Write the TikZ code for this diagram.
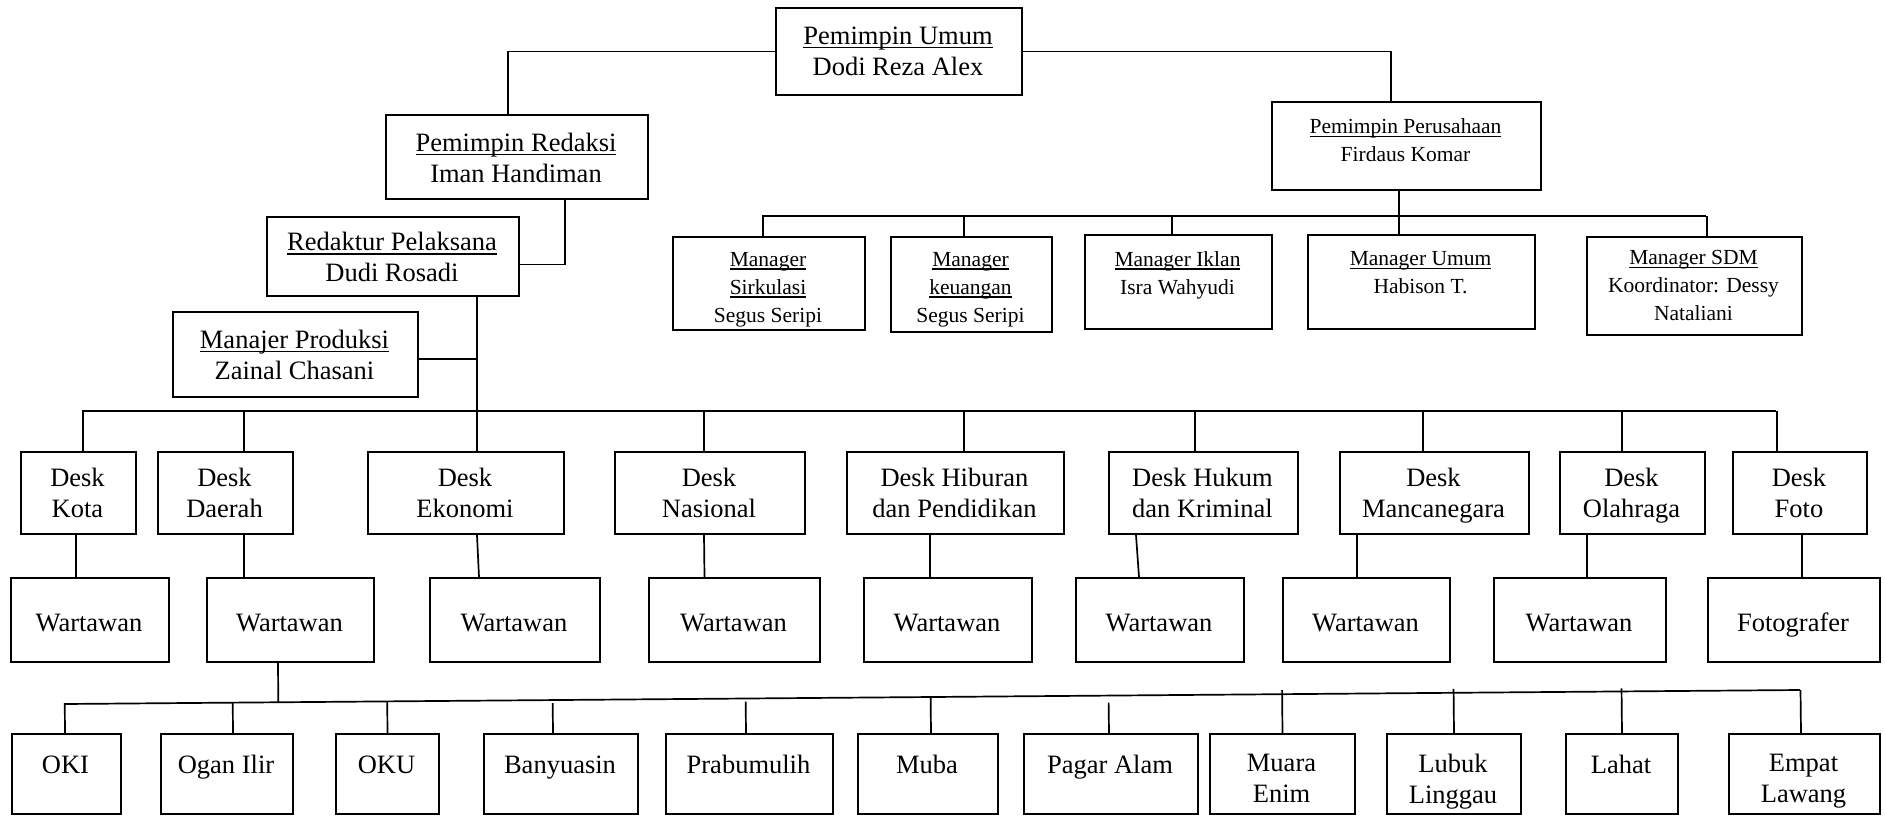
\documentclass[tikz,border=0pt]{standalone}
\usepackage{fontspec}
\setmainfont{Liberation Serif}
\usetikzlibrary{calc}
\newcommand\ulin[1]{\setbox0\hbox{#1}\rlap{\rule[-0.16em]{\wd0}{0.065em}}\box0}
\tikzset{
  obox/.style={draw, line width=2pt, inner sep=0pt, fill=white},
  txtbase/.style={align=center, inner sep=0pt, execute at begin node=\strut, execute at end node=\strut},
  big/.style={txtbase, font=\fontsize{26.5}{31}\selectfont, yshift=-5.5pt},
  small/.style={txtbase, font=\fontsize{21.5}{28}\selectfont, yshift=-4.8pt},
  conn/.style={line width=1.7pt},
}
% #1 text style, #2 name, #3 x1, #4 y1, #5 x2, #6 y2, #7 text y, #8 text
\newcommand\orgbox[8]{%
  \node[obox, minimum width={(#5)-(#3)}, minimum height={(#6)-(#4)}, anchor=north west] (#2) at (#3,#4) {};
  \node[#1] (#2t) at ({((#3)+(#5))/2},#7) {#8};
}
\begin{document}
\begin{tikzpicture}[x=1pt,y=-1pt]
\useasboundingbox (0,0) rectangle (1885,817);
% top
\orgbox{big}{pu}{775}{7}{1021}{94}{50}{\ulin{Pemimpin Umum}\\Dodi Reza Alex}
\orgbox{big}{pr}{385}{114}{647}{198}{156.5}{\ulin{Pemimpin Redaksi}\\Iman Handiman}
\orgbox{small}{pp}{1271}{101}{1540}{189}{139.5}{\ulin{Pemimpin Perusahaan}\\Firdaus Komar}
\orgbox{big}{rp}{266}{216}{518}{295}{256}{\ulin{Redaktur Pelaksana}\\Dudi Rosadi}
\orgbox{big}{mp}{172}{311}{417}{396}{353.5}{\ulin{Manajer Produksi}\\Zainal Chasani}
% managers
\orgbox{small}{m1}{672}{236}{864}{329}{286.5}{\ulin{Manager}\\\ulin{Sirkulasi}\\Segus Seripi}
\orgbox{small}{m2}{890}{236}{1051}{331}{286.5}{\ulin{Manager}\\\ulin{keuangan}\\Segus Seripi}
\orgbox{small}{m3}{1084}{234}{1271}{328}{272}{\ulin{Manager Iklan}\\Isra Wahyudi}
\orgbox{small}{m4}{1307}{234}{1534}{328}{272}{\ulin{Manager Umum}\\Habison T.}
\orgbox{small}{m5}{1586}{236}{1801}{334}{285}{\ulin{Manager SDM}\\Koordinator: Dessy\\Nataliani}
% desks
\orgbox{big}{d1}{20}{451}{135}{533}{492}{Desk\\Kota}
\orgbox{big}{d2}{157}{451}{292}{533}{492}{Desk\\Daerah}
\orgbox{big}{d3}{367}{451}{563}{533}{492}{Desk\\Ekonomi}
\orgbox{big}{d4}{614}{451}{804}{533}{492}{Desk\\Nasional}
\orgbox{big}{d5}{846}{451}{1063}{533}{492}{Desk Hiburan\\dan Pendidikan}
\orgbox{big}{d6}{1108}{451}{1297}{533}{492}{Desk Hukum\\dan Kriminal}
\orgbox{big}{d7}{1339}{451}{1528}{533}{492}{Desk\\Mancanegara}
\orgbox{big}{d8}{1559}{451}{1704}{533}{492}{Desk\\Olahraga}
\orgbox{big}{d9}{1732}{451}{1866}{533}{492}{Desk\\Foto}
% reporters
\orgbox{big}{w1}{10}{577}{168}{661}{620}{Wartawan}
\orgbox{big}{w2}{206}{577}{373}{661}{620}{Wartawan}
\orgbox{big}{w3}{429}{577}{599}{661}{620}{Wartawan}
\orgbox{big}{w4}{648}{577}{819}{661}{620}{Wartawan}
\orgbox{big}{w5}{863}{577}{1031}{661}{620}{Wartawan}
\orgbox{big}{w6}{1075}{577}{1243}{661}{620}{Wartawan}
\orgbox{big}{w7}{1282}{577}{1449}{661}{620}{Wartawan}
\orgbox{big}{w8}{1493}{577}{1665}{661}{620}{Wartawan}
\orgbox{big}{w9}{1707}{577}{1879}{661}{620}{Fotografer}
% regions
\orgbox{big}{r1}{11}{733}{120}{813}{762}{OKI}
\orgbox{big}{r2}{160}{733}{292}{813}{762}{Ogan Ilir}
\orgbox{big}{r3}{335}{733}{438}{813}{762}{OKU}
\orgbox{big}{r4}{483}{733}{637}{813}{762}{Banyuasin}
\orgbox{big}{r5}{665}{733}{832}{813}{762}{Prabumulih}
\orgbox{big}{r6}{857}{733}{997}{813}{762}{Muba}
\orgbox{big}{r7}{1023}{733}{1197}{813}{762}{Pagar Alam}
\orgbox{big}{r8}{1209}{733}{1354}{813}{777.5}{Muara\\Enim}
\orgbox{big}{r9}{1386}{733}{1520}{813}{777.5}{Lubuk\\Linggau}
\orgbox{big}{r10}{1565}{733}{1677}{813}{762}{Lahat}
\orgbox{big}{r11}{1728}{733}{1879}{813}{777.5}{Empat\\Lawang}
% bus coordinates
\coordinate (dbL) at (82,411);
\coordinate (dbR) at (1776,411);
\coordinate (mbL) at (762,216);
\coordinate (mbR) at (1706,216);
\coordinate (rbL) at (64,704);
\coordinate (rbR) at (1800,690);
% top connectors
\draw[conn] (pu.west) -| ([xshift=-9]pr.north);
\draw[conn] (pu.east) -| ([xshift=-15.5]pp.north);
\draw[conn] ([xshift=48]pr.south) |- ([yshift=-8]rp.east);
\coordinate (rpS) at ([xshift=84]rp.south);
\coordinate (mpE) at ([yshift=-4.5]mp.east);
\draw[conn] (rpS) -- (rpS |- dbL);
\draw[conn] (mpE) -- (mpE -| rpS);
% manager bus
\draw[conn] (mbL) -- (mbR);
\draw[conn] ([xshift=-7.5]pp.south) -- ([xshift=-22.5]m4.north);
\foreach \n/\dx in {m1/-6, m2/-7.5, m3/-6.5, m5/12.5}{
  \coordinate (t) at ([xshift=\dx]\n.north);
  \draw[conn] (t) -- (t |- mbL);
}
% desk bus
\draw[conn] (dbL) -- (dbR);
\foreach \n/\dx in {d1/4.5, d2/18.5, d3/11, d4/-6, d5/8.5, d6/-8.5, d7/-11.5, d8/-10.5, d9/-23}{
  \coordinate (t) at ([xshift=\dx]\n.north);
  \draw[conn] (t) -- (t |- dbL);
}
% desk to reporters
\foreach \d/\a/\w/\b in {d1/-2.5/w1/-14, d2/18.5/w2/-46.5, d3/11/w3/-36, d4/-6/w4/-30, d5/-25.5/w5/-18, d6/-67.5/w6/-21, d7/-77.5/w7/-9.5, d8/-45.5/w8/7, d9/2/w9/8}{
  \draw[conn] ([xshift=\a]\d.south) -- ([xshift=\b]\w.north);
}
% region bus
\draw[conn] (rbL) -- (rbR);
\coordinate (w2S) at ([xshift=-12.5]w2.south);
\draw[conn] (w2S) -- ($(rbL)!(w2S)!(rbR)$);
\foreach \n/\dx/\off in {r1/-1.5/0, r2/6/0, r3/0/0, r4/-8/3, r5/-3.5/3, r6/3/0, r7/-2/7, r8/0/-4, r9/0/-4, r10/0/-3, r11/-3.5/0}{
  \coordinate (t) at ([xshift=\dx]\n.north);
  \draw[conn] (t) -- ($($(rbL)!(t)!(rbR)$)+(0,\off)$);
}
\end{tikzpicture}
\end{document}
